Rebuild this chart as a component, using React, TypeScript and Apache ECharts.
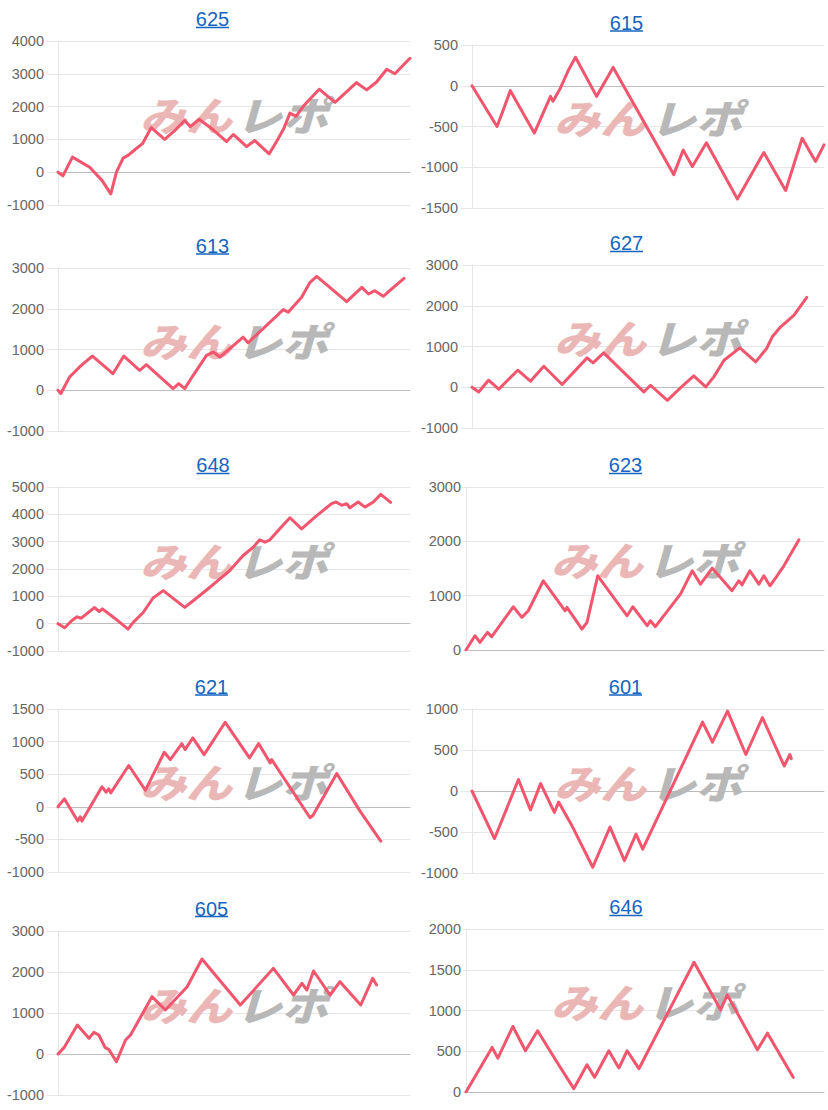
import { useEffect, useRef } from "react";
import * as echarts from "echarts";

const titles = ["625", "615", "613", "627", "648", "623", "621", "601", "605", "646"];
const yMin = [-1000, -1500, -1000, -1000, -1000, 0, -1000, -1000, -1000, 0];
const yMax = [4000, 500, 3000, 3000, 5000, 3000, 1500, 1000, 3000, 2000];
const yStep = [1000, 500, 1000, 1000, 1000, 1000, 500, 500, 1000, 500];

const s625 = [[0, 0], [1.4, -110], [4.1, 460], [9, 150], [12.5, -250], [15, -660], [16.6, 0], [18.5, 430], [20, 520], [22, 700], [24, 870], [26.5, 1360], [30.3, 1000], [33, 1250], [36, 1575], [37.6, 1390], [40.1, 1615], [44, 1300], [47.9, 935], [49.8, 1150], [53.6, 780], [55.9, 965], [60, 560], [62.1, 935], [64, 1300], [65.9, 1800], [67.6, 1700], [70, 2050], [74.2, 2530], [78.7, 2130], [84.8, 2730], [87.7, 2510], [90.5, 2750], [93.4, 3140], [95.7, 3000], [100, 3475]];
const s615 = [[0, 0], [7.1, -500], [8.6, -330], [10.9, -60], [17.7, -580], [22.3, -130], [23, -190], [25.1, -30], [27.5, 200], [29.4, 350], [35.4, -130], [40.1, 225], [57.3, -1090], [60, -790], [62.6, -990], [66.6, -700], [75.4, -1390], [82.9, -820], [89.1, -1285], [93.8, -645], [97.6, -930], [100, -725]];
const s613 = [[0, 0], [0.8, -80], [3.3, 325], [6.6, 610], [9.8, 840], [15.6, 407], [18.7, 840], [23.2, 489], [25.1, 627], [32.7, 41], [34.3, 163], [36, 41], [38.4, 367], [42.2, 855], [44.1, 937], [46, 815], [52.6, 1303], [54, 1165], [64, 1980], [65.4, 1915], [69.2, 2281], [71.6, 2648], [73.5, 2794], [82, 2175], [86.3, 2525], [88.2, 2362], [90, 2444], [92.4, 2305], [95.3, 2525], [98.3, 2745]];
const s627 = [[0, 0], [1.9, -115], [4.7, 172], [7.6, -49], [13, 418], [16.6, 148], [20.4, 516], [25.6, 66], [32.7, 721], [34.4, 598], [37.4, 844], [48.8, -115], [50.7, 49], [55.5, -320], [60, 49], [63, 279], [66.4, 8], [68.7, 254], [71.6, 664], [76.1, 967], [80.6, 623], [83.7, 951], [85.3, 1238], [87.7, 1484], [91.5, 1770], [95.1, 2205]];
const s648 = [[0, 0], [1.9, -150], [3.8, 100], [5.4, 250], [6.6, 200], [10.4, 590], [11.7, 445], [12.6, 543], [16.1, 200], [19.9, -200], [21.3, 40], [24.2, 408], [27, 938], [29.9, 1208], [36, 595], [38.4, 840], [42.2, 1232], [46, 1636], [48.8, 1942], [52.6, 2493], [55.5, 2800], [57.3, 3067], [58.8, 2980], [60.2, 3067], [63, 3470], [65.9, 3874], [69.2, 3470], [73, 3900], [77.7, 4390], [79, 4450], [80.6, 4330], [82, 4390], [82.9, 4240], [85.3, 4450], [87.2, 4265], [89.6, 4450], [91.7, 4730], [94.5, 4440]];
const s623 = [[0, 0], [2.5, 263], [3.9, 141], [6, 325], [7.2, 245], [13.2, 796], [15.6, 600], [17.4, 722], [21.6, 1274], [27.7, 722], [28.2, 784], [32.4, 386], [33.8, 508], [36.8, 1366], [45, 630], [46.6, 796], [50.6, 447], [51.5, 539], [52.9, 429], [59.9, 1029], [63.2, 1458], [65.5, 1212], [68.8, 1506], [74.3, 1090], [76.2, 1274], [77.1, 1200], [79.3, 1458], [81.8, 1212], [83.2, 1366], [84.9, 1182], [86.9, 1366], [88.8, 1550], [93, 2027]];
const s621 = [[0, 0], [1.8, 122], [5.6, -219], [6.3, -153], [6.8, -219], [12.5, 306], [13.7, 224], [14.4, 276], [15, 214], [20.1, 633], [24.8, 255], [25.3, 306], [30.2, 837], [31.9, 724], [35.2, 969], [36.1, 878], [38.3, 1056], [41.5, 801], [47.5, 1296], [54.4, 750], [57, 969], [60.3, 673], [60.7, 724], [71.6, -168], [72.4, -133], [79.2, 510], [85.8, -66], [91.7, -526]];
const s601 = [[0, 0], [6.4, -580], [13.2, 140], [16.6, -230], [19.5, 90], [23.4, -260], [24.6, -135], [28.6, -440], [34.3, -930], [39.2, -440], [43.3, -850], [46.6, -525], [48.5, -710], [65.5, 840], [68.3, 595], [72.6, 975], [77.8, 445], [82.5, 895], [88.7, 305], [90.3, 445], [90.7, 395]];
const s605 = [[0, 0], [1.7, 155], [5.5, 707], [8.8, 382], [10.2, 528], [11.6, 463], [13.4, 155], [14.4, 114], [16.6, -187], [19.2, 341], [20.6, 463], [26.7, 1398], [30.5, 1073], [36.7, 1642], [40.9, 2317], [51.8, 1195], [61.2, 2089], [66.9, 1439], [69.3, 1724], [70.7, 1561], [72.6, 2024], [77.3, 1439], [80.1, 1764], [86, 1195], [89.4, 1846], [90.5, 1683]];
const s646 = [[0, 0], [7.3, 547], [8.9, 416], [13.1, 804], [16.6, 506], [20, 751], [25, 396], [30.1, 41], [33.8, 335], [35.9, 180], [39.9, 506], [42.7, 294], [45, 506], [48.3, 286], [63.7, 1592], [71.1, 1008], [73, 1192], [81.4, 518], [84.2, 722], [91.4, 180]];

const seriesData = [s625, s615, s613, s627, s648, s623, s621, s601, s605, s646];

// panel layout (pixels)
const layout = [
  { left: 58, top: 41, w: 352, h: 164, tx: 212.5, ty: 18.5, ul: 27.5, margin: 14, tick: 11 },
  { left: 472, top: 45, w: 352, h: 163, tx: 626.5, ty: 22.5, ul: 31, margin: 14, tick: 11 },
  { left: 58, top: 268, w: 352, h: 163, tx: 212.5, ty: 245.5, ul: 254, margin: 14, tick: 11 },
  { left: 472, top: 265, w: 352, h: 163, tx: 626.5, ty: 243, ul: 251.5, margin: 14, tick: 11 },
  { left: 58, top: 487, w: 352, h: 164, tx: 213, ty: 465, ul: 473.5, margin: 14, tick: 11 },
  { left: 466, top: 487, w: 358, h: 163, tx: 625.5, ty: 465, ul: 473.5, margin: 5, tick: 3 },
  { left: 58, top: 709, w: 352, h: 163, tx: 211.5, ty: 686.5, ul: 695, margin: 14, tick: 11 },
  { left: 472, top: 709, w: 352, h: 164, tx: 625.5, ty: 686.5, ul: 695, margin: 14, tick: 11 },
  { left: 58, top: 931, w: 352, h: 164, tx: 211.5, ty: 908.5, ul: 916.5, margin: 14, tick: 11 },
  { left: 466, top: 929, w: 358, h: 163, tx: 626, ty: 907, ul: 915.5, margin: 5, tick: 3 },
];

const FONT = "'Liberation Sans', Arial, Helvetica, sans-serif";
const LINK = "#1565c0";
const GRID = "#e6e6e6";
const LINE = "#f2556e";

export default function App() {
  const ref = useRef<HTMLDivElement>(null);
  useEffect(() => {
    const chart = echarts.init(ref.current!, null, { renderer: "svg" });
    const grids: any[] = [];
    const xAxes: any[] = [];
    const yAxes: any[] = [];
    const series: any[] = [];
    const elements: any[] = [];
    titles.forEach((t, i) => {
      const L = layout[i];
      grids.push({ left: L.left, top: L.top, width: L.w, height: L.h, containLabel: false, outerBoundsMode: "none" });
      xAxes.push({
        type: "value",
        gridIndex: i,
        min: 0,
        max: 100,
        axisLabel: { show: false },
        axisTick: { show: false },
        splitLine: { show: false },
        axisLine: { show: true, onZero: true, lineStyle: { color: "#bdbdbd", width: 1 } },
      });
      yAxes.push({
        type: "value",
        gridIndex: i,
        min: yMin[i],
        max: yMax[i],
        interval: yStep[i],
        axisLine: { show: true, lineStyle: { color: GRID, width: 1 } },
        axisTick: { show: true, length: L.tick, lineStyle: { color: GRID } },
        axisLabel: {
          margin: L.margin,
          color: "#666",
          fontSize: 14.5,
          fontFamily: FONT,
          formatter: (v: number) => String(v),
        },
        splitLine: { show: true, lineStyle: { color: GRID, width: 1 } },
      });
      series.push({
        type: "line",
        xAxisIndex: i,
        yAxisIndex: i,
        data: seriesData[i],
        showSymbol: false,
        symbol: "none",
        z: 5,
        lineStyle: { color: LINE, width: 3, join: "round", cap: "round" },
      });
      const cx = L.left + L.w / 2;
      const cy = L.top + L.h / 2 - 10;
      elements.push({
        type: "text",
        x: cx - 2,
        y: cy,
        scaleX: 1.15,
        z: 1,
        silent: true,
        style: {
          text: "みん",
          fontSize: 40,
          fontWeight: 900,
          fontStyle: "italic",
          fontFamily: "'Noto Sans CJK JP', sans-serif",
          fill: "#ebb6b6",
          align: "right",
          verticalAlign: "middle",
        },
      });
      elements.push({
        type: "text",
        x: cx + 2,
        y: cy,
        scaleX: 1.15,
        z: 1,
        silent: true,
        style: {
          text: "レポ",
          fontSize: 40,
          fontWeight: 900,
          fontStyle: "italic",
          fontFamily: "'Noto Sans CJK JP', sans-serif",
          fill: "#b8b8b8",
          align: "left",
          verticalAlign: "middle",
        },
      });
      elements.push({
        type: "text",
        x: L.tx,
        y: L.ty,
        z: 10,
        style: {
          text: t,
          fontSize: 20,
          fontFamily: FONT,
          fill: LINK,
          align: "center",
          verticalAlign: "middle",
        },
      });
      elements.push({
        type: "line",
        z: 10,
        shape: { x1: L.tx - 16.5, y1: L.ul, x2: L.tx + 16.5, y2: L.ul },
        style: { stroke: LINK, lineWidth: 1.5 },
      });
    });
    chart.setOption({
      animation: false,
      backgroundColor: "#ffffff",
      grid: grids,
      xAxis: xAxes,
      yAxis: yAxes,
      series,
      graphic: { elements },
    });
    return () => chart.dispose();
  }, []);
  return (
    <div
      ref={ref}
      style={{ position: "absolute", left: 0, top: 0, width: 828, height: 1110 }}
    />
  );
}
